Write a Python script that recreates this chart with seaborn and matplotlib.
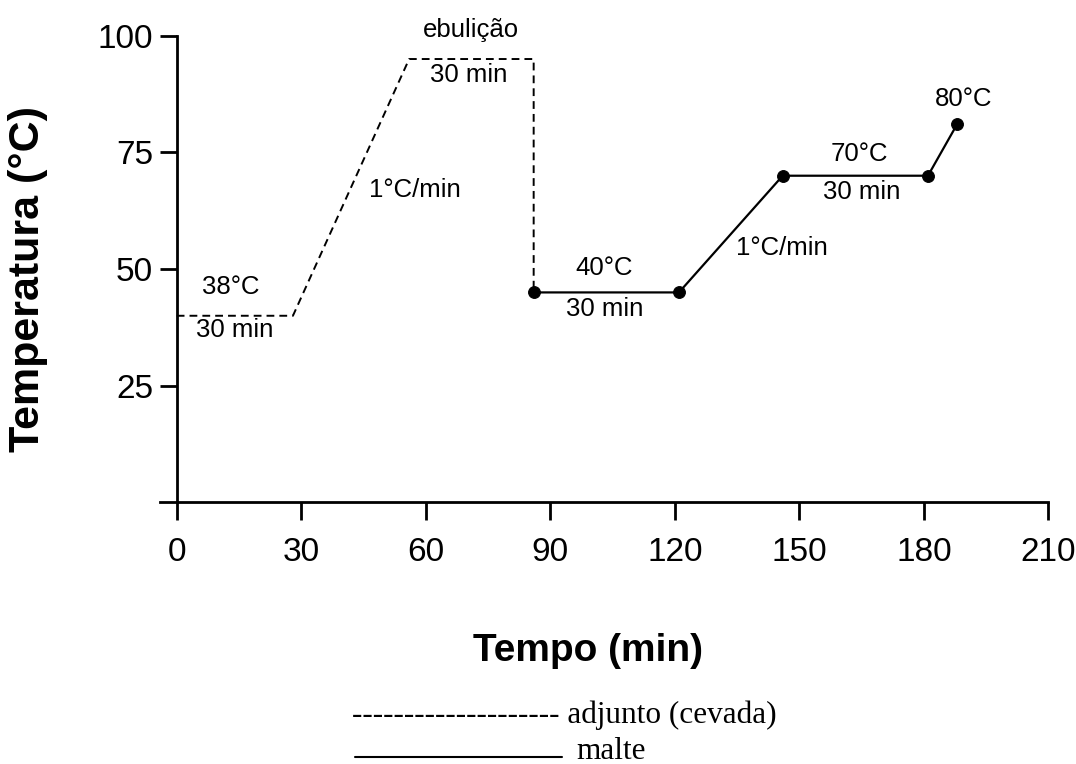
import matplotlib
matplotlib.use("Agg")
import matplotlib.pyplot as plt
from matplotlib.lines import Line2D
import seaborn as sns

sns.set_theme(style="white")
plt.rcParams["font.family"] = ["Liberation Sans", "DejaVu Sans"]

# adjunto (cevada) - dashed profile
adj_time = [0, 28, 56, 86, 86]
adj_temp = [40, 40, 95, 95, 45]

# malte - solid profile with markers
malte_time = [86, 121, 146, 181, 188]
malte_temp = [45, 45, 70, 70, 81]

x_ticks = [0, 30, 60, 90, 120, 150, 180, 210]
y_ticks = [25, 50, 75, 100]

# step annotations: (x, y, text)
notes = [
    (70.8, 101.2, "ebulição"),
    (70.3, 91.6, "30 min"),
    (57.3, 67.0, "1°C/min"),
    (13.1, 46.2, "38°C"),
    (13.9, 37.0, "30 min"),
    (103.0, 50.2, "40°C"),
    (103.0, 41.4, "30 min"),
    (145.8, 54.5, "1°C/min"),
    (164.5, 74.7, "70°C"),
    (165.1, 66.5, "30 min"),
    (189.7, 86.5, "80°C"),
]

fig = plt.figure(figsize=(10.76, 7.64), dpi=100)
ax = fig.add_axes([0.1488, 0.3423, 0.8255, 0.611])

sns.lineplot(x=adj_time, y=adj_temp, sort=False, estimator=None, ax=ax,
             color="black", linewidth=1.4, linestyle=(0, (4, 2.6)))
sns.lineplot(x=malte_time, y=malte_temp, sort=False, estimator=None, ax=ax,
             color="black", linewidth=1.6, marker="o", markersize=8.5,
             markeredgecolor="black")

for x, y, s in notes:
    ax.text(x, y, s, ha="center", va="center", fontsize=18.5, color="black")

ax.set_xlim(-4, 210)
ax.set_ylim(0, 100)
ax.set_xticks(x_ticks)
ax.set_yticks(y_ticks)
ax.tick_params(axis="x", direction="out", length=13, width=2, pad=12,
               labelsize=24, colors="black", bottom=True)
ax.tick_params(axis="y", direction="out", length=12, width=2, pad=5,
               labelsize=24, colors="black", left=True)

for side in ["top", "right"]:
    ax.spines[side].set_visible(False)
ax.spines["left"].set_position(("data", 0))
for side in ["left", "bottom"]:
    ax.spines[side].set_linewidth(2)
    ax.spines[side].set_color("black")

ax.set_xlabel("Tempo (min)", fontsize=28, fontweight="bold", color="black")
ax.set_ylabel("Temperatura (°C)", fontsize=31, fontweight="bold", color="black")
ax.xaxis.set_label_coords(0.4818, -0.28)
ax.yaxis.set_label_coords(-0.126, 0.479)

# legend drawn below the chart
fig.text(0.327, 0.064, "-" * 20 + " adjunto (cevada)", family="Liberation Serif",
         fontsize=22.5, ha="left", va="center", color="black")
fig.add_artist(Line2D([0.33, 0.522], [0.009, 0.009], color="black", linewidth=1.5))
fig.text(0.536, 0.017, "malte", family="Liberation Serif", fontsize=22.5,
         ha="left", va="center", color="black")

fig.savefig("out.png", dpi=100, facecolor="white")
